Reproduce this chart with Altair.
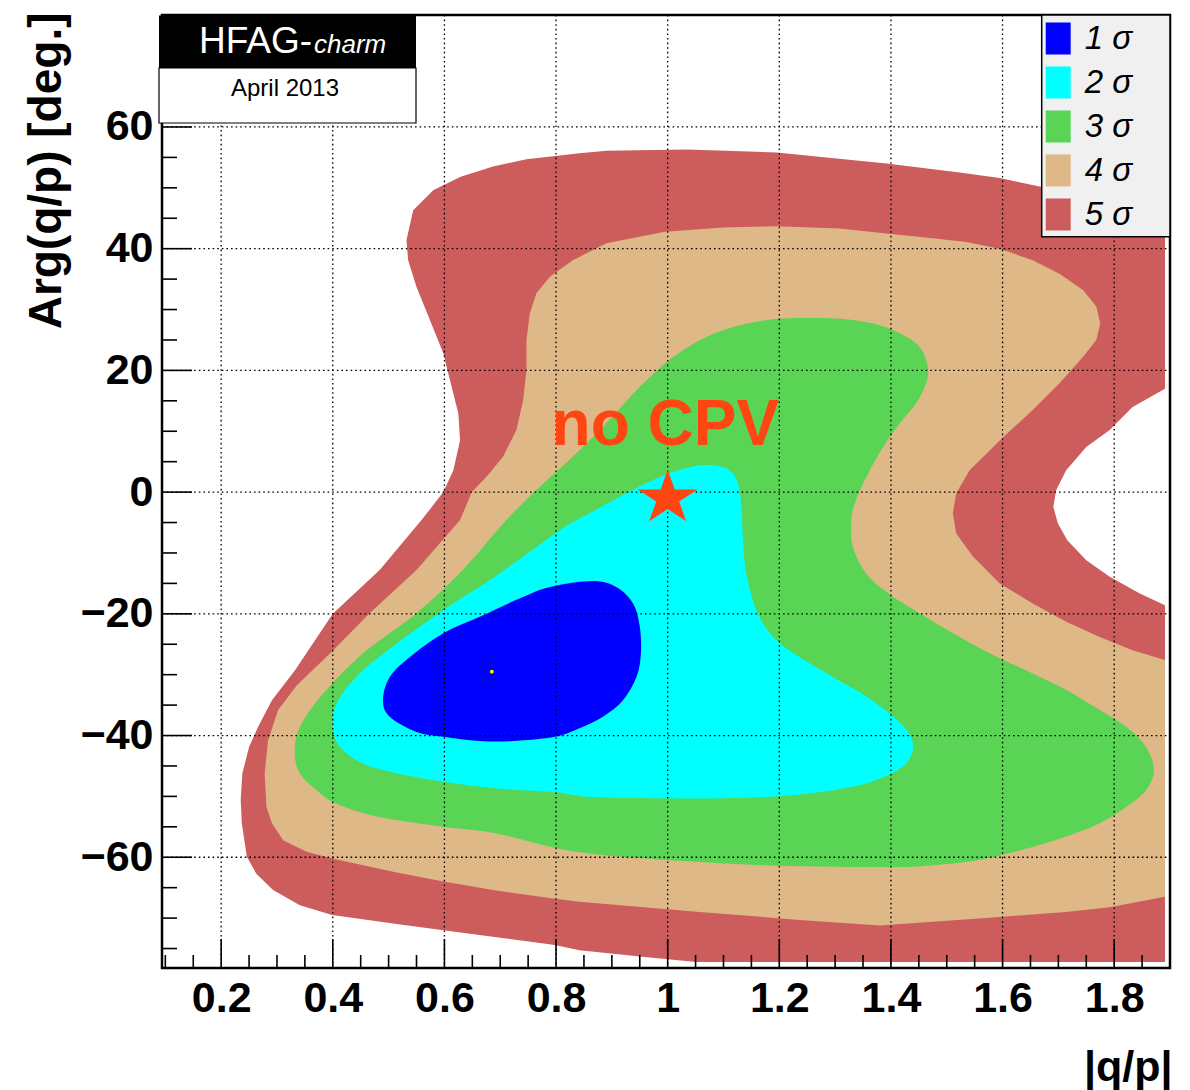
import altair as alt
import pandas as pd

# ---------------- data ----------------
levels = ["1 σ", "2 σ", "3 σ", "4 σ", "5 σ"]
level_colors = ["#0000ff", "#00ffff", "#59d454", "#deb887", "#cd5c5c"]

sigma5_x = [0.532, 0.544, 0.580, 0.628, 0.687, 0.747, 0.842, 0.890, 1.034, 1.195, 1.392, 1.523, 1.595, 1.666, 1.774, 1.891,
            1.891, 1.833, 1.792, 1.750, 1.714, 1.696, 1.691, 1.699, 1.716, 1.750, 1.792, 1.845, 1.891, 1.891,
            1.051, 0.950, 0.842, 0.798, 0.598, 0.508, 0.399, 0.341, 0.293, 0.263, 0.246, 0.237, 0.235, 0.238, 0.250,
            0.266, 0.291, 0.332, 0.400, 0.484, 0.559, 0.598, 0.616, 0.628, 0.625, 0.610, 0.598, 0.574, 0.550, 0.535]
sigma5_y = [41.4, 46.3, 49.6, 51.8, 53.5, 54.7, 55.7, 56.1, 56.3, 55.8, 54.0, 52.5, 51.6, 50.2, 49.1, 48.5,
            17.0, 14.0, 10.2, 7.4, 3.6, 0.3, -2.4, -5.1, -7.9, -11.2, -13.9, -16.6, -18.6, -77.2,
            -77.2, -76.3, -75.3, -74.4, -72.0, -70.9, -69.5, -67.9, -65.4, -62.7, -59.9, -54.4, -50.6, -46.2, -41.9,
            -38.6, -34.2, -29.3, -20.0, -12.8, -4.6, 0.0, 3.6, 8.5, 12.9, 18.4, 22.8, 28.3, 33.7, 38.1]

sigma4_x = [0.789, 0.830, 0.890, 0.995, 1.099, 1.195, 1.308, 1.392, 1.475, 1.535, 1.595, 1.654, 1.702, 1.744, 1.768,
            1.775, 1.768, 1.744, 1.702, 1.654, 1.595, 1.541, 1.517, 1.511, 1.517, 1.547, 1.595, 1.654, 1.714, 1.774,
            1.833, 1.891, 1.891, 1.792, 1.714, 1.595, 1.475, 1.380, 1.236, 1.057, 0.842, 0.798, 0.687, 0.598, 0.508,
            0.399, 0.353, 0.311, 0.291, 0.281, 0.278, 0.284, 0.302, 0.336, 0.395, 0.466, 0.550, 0.628, 0.649, 0.675,
            0.705, 0.729, 0.741, 0.747, 0.747, 0.753, 0.765]
sigma4_y = [35.4, 38.1, 40.9, 42.8, 43.5, 43.7, 43.3, 42.5, 41.7, 41.1, 40.0, 38.1, 35.9, 33.2, 30.5,
            27.7, 25.0, 22.2, 17.9, 13.5, 8.5, 3.6, -0.2, -3.5, -6.8, -10.6, -15.0, -18.3, -21.3, -23.8,
            -26.0, -27.6, -66.5, -68.2, -69.0, -69.8, -70.6, -71.2, -70.3, -69.0, -67.3, -66.8, -65.4, -64.0, -62.4,
            -60.2, -59.1, -57.2, -54.4, -51.7, -46.2, -40.8, -35.8, -31.7, -26.5, -19.9, -12.8, -4.6, 0.0, 2.5,
            5.8, 10.2, 15.1, 20.0, 25.0, 29.4, 32.7]

sigma3_x = [0.332, 0.341, 0.383, 0.454, 0.550, 0.633, 0.711, 0.771, 0.830, 0.890, 0.950, 1.010, 1.069, 1.129, 1.189,
            1.248, 1.308, 1.368, 1.416, 1.451, 1.466, 1.463, 1.445, 1.416, 1.386, 1.356, 1.335, 1.329, 1.332, 1.356,
            1.395, 1.451, 1.523, 1.595, 1.654, 1.714, 1.774, 1.822, 1.857, 1.871, 1.857, 1.822, 1.774, 1.714, 1.654,
            1.595, 1.535, 1.475, 1.416, 1.236, 1.057, 0.842, 0.693, 0.598, 0.484, 0.407, 0.371, 0.341]
sigma3_y = [-42.9, -38.6, -33.1, -26.5, -19.9, -12.8, -4.6, 0.9, 5.8, 11.3, 17.3, 22.2, 25.5, 27.4, 28.4,
            28.6, 28.5, 27.7, 26.1, 23.9, 20.6, 17.9, 14.6, 11.3, 7.4, 2.5, -1.9, -5.1, -9.0, -13.4,
            -16.6, -19.9, -23.8, -27.3, -29.8, -32.5, -35.8, -38.6, -41.9, -45.7, -49.0, -51.7, -54.4, -56.6, -58.3,
            -59.7, -60.8, -61.3, -61.6, -61.5, -60.8, -59.2, -56.1, -55.0, -53.4, -51.2, -49.0, -46.2]

sigma2_x = [0.400, 0.407, 0.448, 0.514, 0.598, 0.681, 0.741, 0.813, 0.866, 0.926, 0.986, 1.045, 1.081, 1.111, 1.126,
            1.132, 1.135, 1.141, 1.159, 1.189, 1.236, 1.296, 1.356, 1.404, 1.433, 1.439, 1.421, 1.374, 1.314, 1.224,
            1.105, 0.986, 0.866, 0.798, 0.693, 0.598, 0.514, 0.454, 0.413]
sigma2_y = [-38.6, -34.7, -29.8, -24.9, -19.4, -14.5, -10.6, -5.9, -3.2, -0.2, 2.5, 4.2, 4.4, 3.6, 1.4,
            -2.4, -7.9, -13.4, -19.4, -23.8, -27.1, -30.4, -33.6, -36.9, -39.7, -42.4, -45.1, -47.3, -48.7, -49.8,
            -50.3, -50.3, -50.1, -49.3, -48.7, -47.6, -46.2, -44.6, -41.9]

sigma1_x = [0.490, 0.502, 0.538, 0.598, 0.663, 0.729, 0.789, 0.866, 0.908, 0.938, 0.950, 0.952, 0.944, 0.920, 0.884,
            0.842, 0.798, 0.723, 0.663, 0.598, 0.550, 0.502]
sigma1_y = [-34.2, -30.4, -27.1, -23.2, -20.5, -17.7, -15.6, -14.6, -15.6, -18.3, -22.1, -26.5, -30.4, -34.2, -36.9,
            -38.8, -40.2, -40.9, -40.9, -40.2, -39.4, -36.9]

best_fit_x = [0.685]
best_fit_y = [-29.5]
no_cpv_x = [1.0]
no_cpv_y = [-1.0]
no_cpv_label = ["no CPV"]

x_major = [0.2, 0.4, 0.6, 0.8, 1.0, 1.2, 1.4, 1.6, 1.8]
x_minor = [0.1, 0.15, 0.25, 0.3, 0.35, 0.45, 0.5, 0.55, 0.65, 0.7, 0.75, 0.85, 0.9, 0.95,
           1.05, 1.1, 1.15, 1.25, 1.3, 1.35, 1.45, 1.5, 1.55, 1.65, 1.7, 1.75, 1.85]
y_major = [-60, -40, -20, 0, 20, 40, 60]
y_minor = [-75, -70, -65, -55, -50, -45, -35, -30, -25, -15, -10, -5,
           5, 10, 15, 25, 30, 35, 45, 50, 55, 65, 70, 75]

# ---------------- layout ----------------
W, H = 1008, 953
X_DOMAIN = [0.094, 1.9]
Y_DOMAIN = [-78.2, 78.4]
FONT = "Liberation Sans"

rows = []
for lv, xs, ys in zip(levels,
                      [sigma1_x, sigma2_x, sigma3_x, sigma4_x, sigma5_x],
                      [sigma1_y, sigma2_y, sigma3_y, sigma4_y, sigma5_y]):
    for i, (a, b) in enumerate(zip(xs, ys)):
        rows.append({"level": lv, "i": i, "x": a, "y": b})
poly = pd.DataFrame(rows)

xscale = alt.Scale(domain=X_DOMAIN, nice=False, zero=False)
yscale = alt.Scale(domain=Y_DOMAIN, nice=False, zero=False)

xaxis = alt.Axis(values=x_major, format=".1~f", labelFont=FONT, labelFontSize=43, labelFontWeight="bold",
                 labelColor="black", labelPadding=43, labelBaseline="alphabetic", labelOverlap=False,
                 labelFlush=False, ticks=False, tickSize=0, domain=False, grid=False,
                 title="|q/p|", titleFont=FONT, titleFontSize=43, titleFontWeight="bold", titleColor="black",
                 titleX=W + 2, titleY=112, titleAlign="right", titleBaseline="alphabetic")
yaxis = alt.Axis(values=y_major, format="d", labelFont=FONT, labelFontSize=43, labelFontWeight="bold",
                 labelColor="black", labelPadding=9, labelBaseline="middle", labelOverlap=False,
                 labelFlush=False, ticks=False, tickSize=0, domain=False, grid=False,
                 title="Arg(q/p) [deg.]", titleFont=FONT, titleFontSize=46, titleFontWeight="bold",
                 titleColor="black", titleAngle=270, titleAlign="right", titleBaseline="middle",
                 titleX=-116, titleY=-3)

X = alt.X("x:Q", scale=xscale, axis=xaxis)
Y = alt.Y("y:Q", scale=yscale, axis=yaxis)

legend = alt.Legend(title=None, orient="none", legendX=879.7, legendY=2, direction="vertical",
                    padding=5, rowPadding=10,
                    symbolType="M-0.78,-1L0.78,-1L0.78,1L-0.78,1Z", symbolSize=1024, symbolStrokeWidth=0,
                    symbolOpacity=1, symbolOffset=-5,
                    labelFont=FONT, labelFontSize=33, labelFontStyle="italic", labelColor="black",
                    labelOffset=10, labelLimit=0)
color = alt.Color("level:N", scale=alt.Scale(domain=levels, range=level_colors), legend=legend)

smooth = {"5 σ": "linear-closed", "4 σ": "linear-closed", "3 σ": "cardinal-closed",
          "2 σ": "cardinal-closed", "1 σ": "cardinal-closed"}
layers = []
for lv in reversed(levels):
    layers.append(
        alt.Chart(poly).transform_filter(alt.datum.level == lv)
        .mark_line(filled=True, interpolate=smooth[lv], strokeWidth=0, clip=True)
        .encode(x=X, y=Y, color=color, order=alt.Order("i:Q"))
    )

dot = {"color": "black", "strokeWidth": 1.3, "strokeDash": [1.6, 3]}
grid_x = alt.Chart(pd.DataFrame({"x": x_major})).mark_rule(**dot).encode(x=X, y=alt.value(0), y2=alt.value(H))
grid_y = alt.Chart(pd.DataFrame({"y": y_major})).mark_rule(**dot).encode(y=Y, x=alt.value(0), x2=alt.value(W))

tick = {"color": "black", "strokeWidth": 1.6}
tx_major = alt.Chart(pd.DataFrame({"x": x_major})).mark_rule(**tick).encode(x=X, y=alt.value(H), y2=alt.value(H - 29))
tx_minor = alt.Chart(pd.DataFrame({"x": x_minor})).mark_rule(**tick).encode(x=X, y=alt.value(H), y2=alt.value(H - 13))
ty_major = alt.Chart(pd.DataFrame({"y": y_major})).mark_rule(**tick).encode(y=Y, x=alt.value(0), x2=alt.value(30))
ty_minor = alt.Chart(pd.DataFrame({"y": y_minor})).mark_rule(**tick).encode(y=Y, x=alt.value(0), x2=alt.value(15))

fit_pt = alt.Chart(pd.DataFrame({"x": best_fit_x, "y": best_fit_y})).mark_circle(
    color="#ffff00", size=14, opacity=1).encode(x=X, y=Y)

star_path = ("M0,-0.9L0.225,-0.278L0.951,-0.278L0.363,0.106L0.588,0.728L0,0.344"
             "L-0.588,0.728L-0.363,0.106L-0.951,-0.278L-0.225,-0.278Z")
star = alt.Chart(pd.DataFrame({"x": no_cpv_x, "y": no_cpv_y})).mark_point(
    shape=star_path, filled=True, size=3970, color="#ff4512", opacity=1, strokeWidth=0).encode(x=X, y=Y)

cpv_text = alt.Chart(pd.DataFrame({"x": [0.792], "y": [7.7], "t": no_cpv_label})).mark_text(
    align="left", baseline="alphabetic", font=FONT, fontSize=64, fontWeight="bold", color="#ff4512"
).encode(x=X, y=Y, text="t:N")

box_df = pd.DataFrame({"t": ["box"]})
legend_box = alt.Chart(box_df).mark_rect(fill="#f0f0f0", stroke="black", strokeWidth=1.5).encode(
    x=alt.value(879.7), x2=alt.value(W), y=alt.value(0), y2=alt.value(221.7))
hfag_black = alt.Chart(box_df).mark_rect(color="black").encode(
    x=alt.value(-3), x2=alt.value(254), y=alt.value(0.5), y2=alt.value(53))
hfag_white = alt.Chart(box_df).mark_rect(fill="white", stroke="black", strokeWidth=1.2).encode(
    x=alt.value(-3), x2=alt.value(254), y=alt.value(53), y2=alt.value(108))
hfag_t1 = alt.Chart(pd.DataFrame({"t": ["HFAG-"]})).mark_text(
    align="left", baseline="alphabetic", font=FONT, fontSize=37, color="white").encode(
    x=alt.value(37), y=alt.value(37.7), text="t:N")
hfag_t2 = alt.Chart(pd.DataFrame({"t": ["charm"]})).mark_text(
    align="left", baseline="alphabetic", font=FONT, fontSize=26, fontStyle="italic", color="white").encode(
    x=alt.value(152), y=alt.value(37.7), text="t:N")
hfag_t3 = alt.Chart(pd.DataFrame({"t": ["April 2013"]})).mark_text(
    align="center", baseline="alphabetic", font=FONT, fontSize=24, color="black").encode(
    x=alt.value(123), y=alt.value(81), text="t:N")

chart = alt.layer(
    *layers, fit_pt, grid_x, grid_y, tx_major, tx_minor, ty_major, ty_minor,
    star, cpv_text, legend_box, hfag_black, hfag_white, hfag_t1, hfag_t2, hfag_t3
).properties(
    width=W, height=H,
    autosize=alt.AutoSizeParams(type="none"),
    padding={"left": 154, "top": 7, "right": 12, "bottom": 122},
    background="white",
).configure_view(stroke="black", strokeWidth=2.5)

chart.save("out.html", embed_options={"renderer": "svg", "actions": False})
